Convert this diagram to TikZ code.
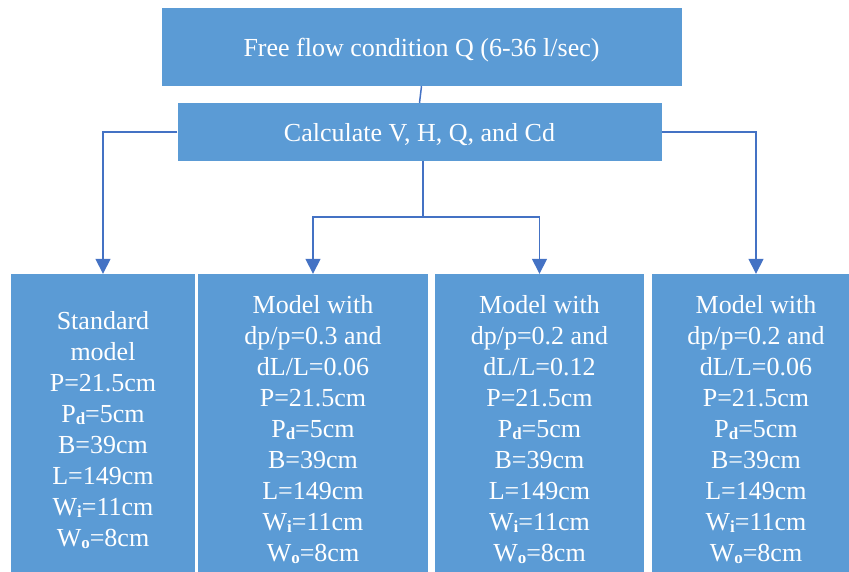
\documentclass[tikz,border=0pt]{standalone}
\usepackage{fontspec}
\setmainfont{Liberation Serif}
\usetikzlibrary{arrows.meta}
\definecolor{boxblue}{HTML}{5B9BD5}
\definecolor{linkblue}{HTML}{4472C4}
\newcommand{\lowidx}[1]{\raisebox{-2pt}{\fontsize{17}{17}\selectfont\bfseries #1}}
\newcommand{\flumeparams}{P=21.5cm\\P\lowidx{d}=5cm\\B=39cm\\L=149cm\\W\lowidx{i}=11cm\\W\lowidx{o}=8cm}

\begin{document}
\begin{tikzpicture}[x=1pt, y=-1pt,
    block/.style={fill=boxblue, text=white, inner sep=0pt, align=center,
      font=\fontsize{26}{31}\selectfont},
    model/.style={block, minimum height=312pt},
    link/.style={draw=linkblue, line width=1.5pt},
    arrowlink/.style={link, -{Triangle[width=15pt,length=15pt]}}]
  \useasboundingbox (0,0) rectangle (849,571);

  % Upper boxes
  \node[block, text depth=0pt, minimum width=520pt, minimum height=78pt] (flow) at (421.5,47)
    {Free flow condition Q (6-36 l/sec)};
  \node[block, text depth=0pt, minimum width=484pt, minimum height=58pt] (calc) at (419.5,132)
    {Calculate V, H, Q, and Cd};

  % Model boxes (run past the lower edge)
  \node[model, minimum width=184pt] (std) at (103,430)
    {Standard\\model\\\flumeparams};
  \node[model, minimum width=230pt] (mA) at (313,430)
    {Model with\\dp/p=0.3 and\\dL/L=0.06\\\flumeparams};
  \node[model, minimum width=209pt] (mB) at (539.5,430)
    {Model with\\dp/p=0.2 and\\dL/L=0.12\\\flumeparams};
  \node[model, minimum width=208pt] (mC) at (756,430)
    {Model with\\dp/p=0.2 and\\dL/L=0.06\\\flumeparams};

  \coordinate (split) at (423,217);

  \draw[link] (flow.south) -- (calc.north);
  \draw[arrowlink] (calc.west) -| (std.north);
  \draw[arrowlink] (calc.east) -| (mC.north);
  \draw[link] (split |- calc.south) -- (split);
  \draw[arrowlink] (split) -| (mA.north);
  \draw[arrowlink] (split) -| (mB.north);
\end{tikzpicture}
\end{document}
